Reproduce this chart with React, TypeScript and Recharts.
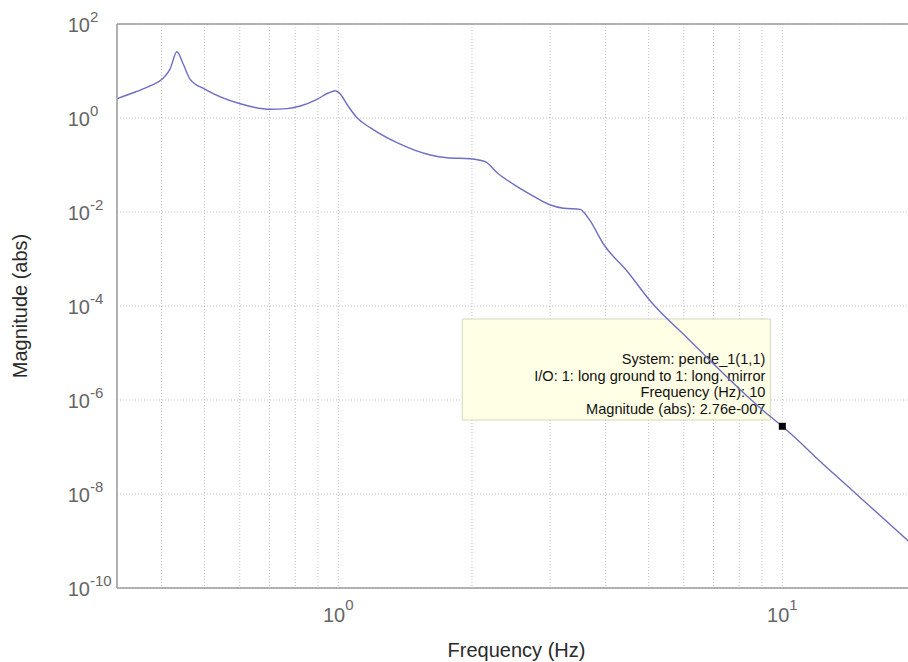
import React from 'react';
import { LineChart, Line, XAxis, YAxis, CartesianGrid, ReferenceLine, ReferenceArea, ReferenceDot } from 'recharts';

// Bode magnitude (frequency in Hz, magnitude in abs)
const freqHz = [
  0.3178, 0.349, 0.377, 0.4014, 0.418, 0.4331, 0.4475, 0.464, 0.5017, 0.6015,
  0.7028, 0.7665, 0.8212, 0.8954, 0.9495, 0.9846, 1.0104, 1.046, 1.102, 1.18,
  1.356, 1.612, 1.757, 1.983, 2.143, 2.278, 2.482, 2.706, 3.003, 3.217,
  3.508, 3.6, 3.694, 3.958, 4.469, 5.043, 6.1, 9.08, 10.0, 12.61,
  14.99, 19.22, 20,
];
const magAbs = [
  2.58, 3.57, 4.8, 6.76, 11.0, 25.7, 14.1, 6.66, 4.08, 2.01,
  1.53, 1.58, 1.8, 2.5, 3.4, 3.81, 3.24, 1.96, 1.01, 0.622,
  0.298, 0.163, 0.143, 0.136, 0.1175, 0.0686, 0.0388, 0.0238, 0.0141, 0.012,
  0.0114, 0.00906, 0.00644, 0.00206, 5.56e-4, 1.28e-4, 2.12e-5, 5.83e-7, 2.76e-7, 3.63e-8,
  8.34e-9, 1.0e-9, 7.1e-10,
];

const xGridTicks = [0.4, 0.5, 0.6, 0.7, 0.8, 0.9, 1, 2, 3, 4, 5, 6, 7, 8, 9, 10, 20];
const xLabelTicks = [1, 10];
const yTicks = [1e-10, 1e-8, 1e-6, 1e-4, 1e-2, 1, 100];

// data tip
const markerFreq = 10;
const markerMag = 2.76e-7;
const tipFreqRange = [1.902, 9.4];
const tipMagRange = [3.75e-7, 5.29e-5];
const tipLines = [
  'System: pende_1(1,1)',
  'I/O: 1: long ground to 1: long. mirror',
  'Frequency (Hz): 10',
  'Magnitude (abs): 2.76e-007',
];

const data = freqHz.map((f, i) => ({ f, mag: magAbs[i] }));

const AXIS = '#9a9a9a';
const TICK_TEXT = '#666';

const XTick = (props: any) => {
  const { x, y, payload } = props;
  if (!xLabelTicks.includes(payload.value)) return <g />;
  const e = Math.round(Math.log10(payload.value));
  return (
    <text x={x} y={y + 34} textAnchor="middle" fontSize={20} fill={TICK_TEXT}>
      10<tspan dy={-12} fontSize={15}>{e}</tspan>
    </text>
  );
};

const YTick = (props: any) => {
  const { x, y, payload } = props;
  const e = Math.round(Math.log10(payload.value));
  return (
    <g>
      <text x={x - 27} y={y + 8} textAnchor="end" fontSize={20} fill={TICK_TEXT}>10</text>
      <text x={x - 27} y={y - 2} textAnchor="start" fontSize={15} fill={TICK_TEXT}>{e}</text>
    </g>
  );
};

const TipText = (props: any) => {
  const { viewBox } = props;
  const right = viewBox.x + viewBox.width - 5;
  return (
    <g>
      {tipLines.map((t, i) => (
        <text key={i} x={right} y={viewBox.y + 45 + i * 16.7} textAnchor="end" fontSize={14.6} fill="#111">
          {t}
        </text>
      ))}
    </g>
  );
};

const XTitle = (props: any) => {
  const { viewBox } = props;
  return (
    <text x={viewBox.x + viewBox.width / 2} y={viewBox.y + 69} textAnchor="middle" fontSize={20} fill="#2a2a2a">
      Frequency (Hz)
    </text>
  );
};

const YTitle = (props: any) => {
  const { viewBox } = props;
  const cy = viewBox.y + viewBox.height / 2;
  return (
    <text x={27} y={cy} transform={`rotate(-90, 27, ${cy})`} textAnchor="middle" fontSize={20} fill="#2a2a2a">
      Magnitude (abs)
    </text>
  );
};

export default function App() {
  return (
    <div
      style={{
        position: 'absolute',
        left: 0,
        top: 0,
        width: 908,
        height: 662,
        overflow: 'hidden',
        background: '#fff',
        fontFamily: "Arial, 'Liberation Sans', sans-serif",
      }}
    >
      <LineChart width={940} height={662} data={data} margin={{ top: 24, right: 24, left: 57, bottom: 44 }}>
        <CartesianGrid stroke="#c4c4c4" strokeDasharray="1 2" />
        <XAxis
          dataKey="f"
          type="number"
          scale="log"
          domain={[0.3175, 20]}
          allowDataOverflow
          ticks={xGridTicks}
          interval={0}
          height={30}
          tickLine={false}
          tickSize={0}
          tickMargin={0}
          axisLine={{ stroke: AXIS, strokeWidth: 1.5 }}
          tick={XTick}
          label={<XTitle />}
        />
        <YAxis
          dataKey="mag"
          type="number"
          scale="log"
          domain={[1e-10, 100]}
          allowDataOverflow
          ticks={yTicks}
          interval={0}
          width={60}
          tickLine={false}
          tickSize={0}
          tickMargin={0}
          axisLine={{ stroke: AXIS, strokeWidth: 1.5 }}
          tick={YTick}
          label={<YTitle />}
        />
        <ReferenceLine y={100} stroke={AXIS} strokeWidth={1.5} />
        <ReferenceArea
          x1={tipFreqRange[0]}
          x2={tipFreqRange[1]}
          y1={tipMagRange[0]}
          y2={tipMagRange[1]}
          fill="#ffffe6"
          fillOpacity={1}
          stroke="#d6d6c4"
          label={<TipText />}
        />
        <Line
          type="monotone"
          dataKey="mag"
          stroke="#6e6ec4"
          strokeWidth={1.4}
          dot={false}
          isAnimationActive={false}
        />
        <ReferenceDot
          x={markerFreq}
          y={markerMag}
          r={4}
          shape={(p: any) => <rect x={p.cx - 3.5} y={p.cy - 3.5} width={7} height={7} fill="#000" />}
        />
      </LineChart>
    </div>
  );
}
